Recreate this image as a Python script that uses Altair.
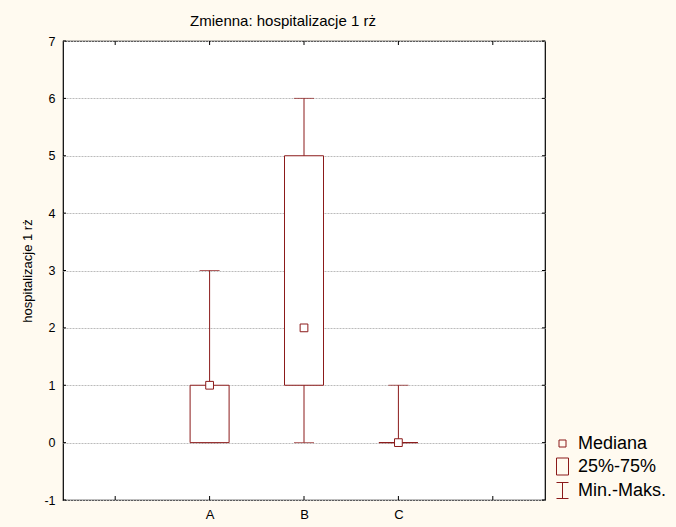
import altair as alt
import pandas as pd

# Box-plot summary per group
categories = ["A", "B", "C"]
minimum = [0, 0, 0]
q1 = [0, 1, 0]
median = [1, 2, 0]
q3 = [1, 5, 0]
maximum = [3, 6, 1]

# Axis ticks (x positions 0..4, groups sit at 1..3)
x_ticks = [0, 1, 2, 3, 4]
y_ticks = [-1, 0, 1, 2, 3, 4, 5, 6, 7]

legend_labels = ["Mediana", "25%-75%", "Min.-Maks."]
legend_shapes = [
    "M-0.35,-0.35L0.35,-0.35L0.35,0.35L-0.35,0.35Z",
    "M-0.6,-0.85L0.6,-0.85L0.6,0.85L-0.6,0.85Z",
    "M-0.6,-0.8L0.6,-0.8M0,-0.8L0,0.8M-0.6,0.8L0.6,0.8",
]

W, H = 482, 459
RED = "#8B1A1A"
FONT = "Liberation Sans"

df = pd.DataFrame({
    "grupa": categories,
    "pos": list(range(1, len(categories) + 1)),
    "min": minimum,
    "q1": q1,
    "med": median,
    "q3": q3,
    "max": maximum,
})
xt = pd.DataFrame({"pos": x_ticks})
yt = pd.DataFrame({"v": y_ticks})
lg = pd.DataFrame({"lab": legend_labels})

label_list = "[" + ",".join(["''"] + [f"'{c}'" for c in categories] + ["''"]) + "]"

xscale = alt.Scale(domain=[-0.5, 4.5], nice=False, zero=False)
yscale = alt.Scale(domain=[-1, 7], nice=False, zero=False)

base = alt.Chart(df)

x_enc = alt.X(
    "pos:Q", scale=xscale, title=None,
    axis=alt.Axis(values=x_ticks, labelExpr=f"{label_list}[datum.value]",
                  ticks=False, grid=False, domain=False, labelFontSize=13,
                  labelPadding=8, labelColor="black", labelFont=FONT),
)
y_enc = alt.Y(
    "min:Q", scale=yscale, title="hospitalizacje 1 rż",
    axis=alt.Axis(values=y_ticks, labelExpr="'' + datum.value",
                  ticks=False, domain=False, grid=True,
                  gridColor="#BBBBBB", gridDash=[2, 1], gridWidth=1,
                  labelFontSize=12.5, labelPadding=8, labelColor="black",
                  labelFont=FONT, titleFont=FONT, titleFontSize=13,
                  titleFontWeight="normal", titleColor="black", titlePadding=9),
)

whisker = base.mark_rule(color=RED, strokeWidth=1).encode(
    x=x_enc, y=y_enc, y2="max:Q"
)
caps_lo = base.mark_tick(color=RED, orient="horizontal", size=20, thickness=1).encode(
    x=alt.X("pos:Q", scale=xscale), y=alt.Y("min:Q", scale=yscale)
)
caps_hi = base.mark_tick(color=RED, orient="horizontal", size=20, thickness=1).encode(
    x=alt.X("pos:Q", scale=xscale), y=alt.Y("max:Q", scale=yscale)
)
box = base.mark_bar(size=39, fill="white", stroke=RED, strokeWidth=1).encode(
    x=alt.X("pos:Q", scale=xscale), y=alt.Y("q1:Q", scale=yscale), y2="q3:Q"
)
med = base.mark_point(shape="square", size=60, filled=True, fill="white",
                      stroke=RED, strokeWidth=1, opacity=1).encode(
    x=alt.X("pos:Q", scale=xscale), y=alt.Y("med:Q", scale=yscale)
)

# inward tick marks on all four sides
tick_bottom = alt.Chart(xt).mark_rule(color="black").encode(
    x=alt.X("pos:Q", scale=xscale), y=alt.value(H), y2=alt.value(H - 4)
)
tick_top = alt.Chart(xt).mark_rule(color="black").encode(
    x=alt.X("pos:Q", scale=xscale), y=alt.value(0), y2=alt.value(4)
)
tick_left = alt.Chart(yt).mark_rule(color="black").encode(
    y=alt.Y("v:Q", scale=yscale), x=alt.value(0), x2=alt.value(3)
)
tick_right = alt.Chart(yt).mark_rule(color="black").encode(
    y=alt.Y("v:Q", scale=yscale), x=alt.value(W), x2=alt.value(W - 3)
)

legend_layer = alt.Chart(lg).mark_point(opacity=0).encode(
    x=alt.value(0), y=alt.value(0),
    shape=alt.Shape(
        "lab:N",
        scale=alt.Scale(domain=legend_labels, range=legend_shapes),
        legend=alt.Legend(
            title=None, orient="none", legendX=489, legendY=392,
            symbolSize=400, symbolStrokeColor=RED, symbolFillColor="transparent",
            symbolStrokeWidth=1, symbolOpacity=1, labelFontSize=18,
            labelFont=FONT, labelColor="black", labelOffset=5, rowPadding=3,
            padding=0,
        ),
    ),
)

chart = alt.layer(
    whisker, caps_lo, caps_hi, box, med,
    tick_bottom, tick_top, tick_left, tick_right, legend_layer,
).properties(
    width=W, height=H,
    title=alt.TitleParams("Zmienna: hospitalizacje 1 rż", font=FONT, fontSize=15,
                          fontWeight="normal", color="black", offset=6,
                          anchor="middle", dx=-21),
    background="#FFFAF0",
    padding={"left": 63, "top": 41, "right": 676 - 63 - W, "bottom": 527 - 41 - H},
    autosize=alt.AutoSizeParams(type="none"),
).configure_view(
    fill="white", stroke="black", strokeWidth=1.2
)

chart.save("out.html", embed_options={"renderer": "svg", "actions": False})
